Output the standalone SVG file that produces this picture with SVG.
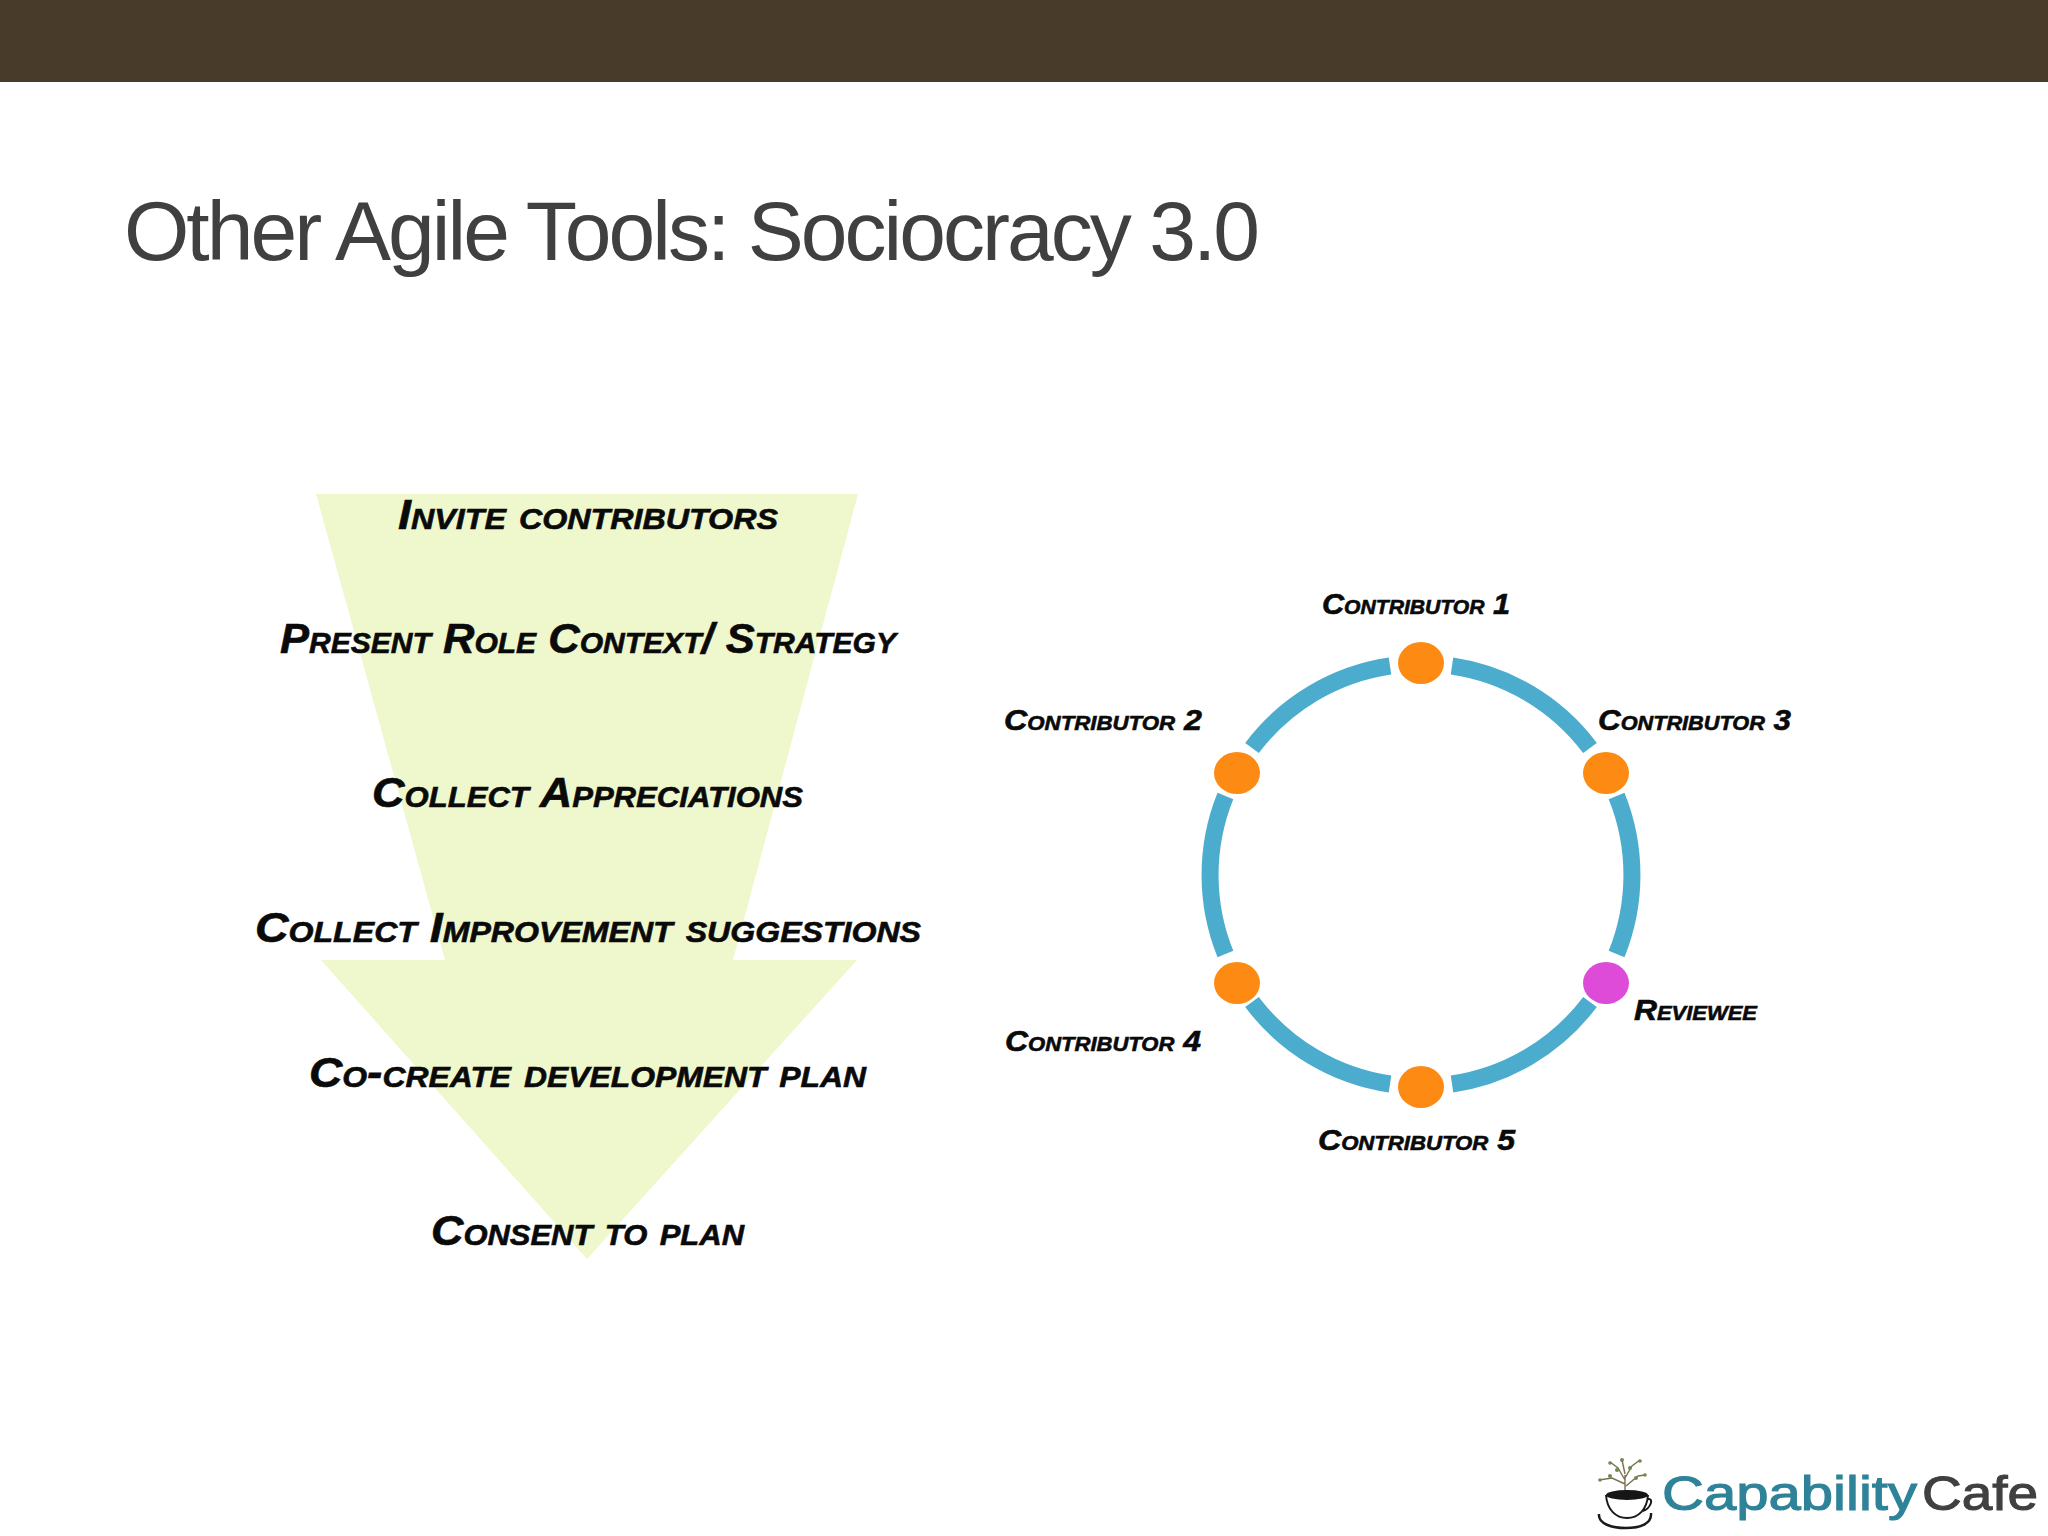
<svg xmlns="http://www.w3.org/2000/svg" width="2048" height="1536" viewBox="0 0 2048 1536">
<style>
.h{font-family:"Liberation Sans",Arial,sans-serif;font-weight:700;font-style:italic;font-variant:small-caps;fill:#0a0a0a;stroke:#0a0a0a;stroke-width:.6}
.s{font-size:42px}.m{font-size:29px}
.d{fill:#fd8a12}.a{fill:none;stroke:#4bacce;stroke-width:17}
.lg{font-family:"Liberation Sans",Arial,sans-serif;font-size:48px;stroke-width:1.1}
.k{fill:none;stroke:#1a1a1a}.t{fill:none;stroke:#7d6f52;stroke-width:1.4}.l{fill:#6f8a4e}
</style>
<rect width="2048" height="1536" fill="#fff"/>
<rect width="2048" height="82" fill="#483b29"/>
<text x="124" y="260" font-family="'Liberation Sans',Arial,sans-serif" font-size="84" fill="#404040" textLength="1136" lengthAdjust="spacing">Other Agile Tools: Sociocracy 3.0</text>
<polygon id="funnel-arrow" points="316,494 858,494 733,960 857,960 587,1259 321,960 445,960" fill="#eff7cc"/>
<g id="steps">
<text class="h s" x="398" y="529" textLength="380" lengthAdjust="spacingAndGlyphs">Invite contributors</text>
<text class="h s" x="280" y="653" textLength="616" lengthAdjust="spacingAndGlyphs">Present Role Context/ Strategy</text>
<text class="h s" x="372" y="807" textLength="431" lengthAdjust="spacingAndGlyphs">Collect Appreciations</text>
<text class="h s" x="255" y="942" textLength="666" lengthAdjust="spacingAndGlyphs">Collect Improvement suggestions</text>
<text class="h s" x="309" y="1087" textLength="557" lengthAdjust="spacingAndGlyphs">Co-create development plan</text>
<text class="h s" x="431" y="1245" textLength="313" lengthAdjust="spacingAndGlyphs">Consent to plan</text>
</g>
<g id="connectors">
<path class="a" d="M1452 666A211 211 0 0 1 1590 748"/>
<path class="a" d="M1616.6 796A211 211 0 0 1 1616.6 954"/>
<path class="a" d="M1590 1002A211 211 0 0 1 1452 1084"/>
<path class="a" d="M1390 1084A211 211 0 0 1 1252 1002"/>
<path class="a" d="M1225.4 954A211 211 0 0 1 1225.4 796"/>
<path class="a" d="M1252 748A211 211 0 0 1 1390 666"/>
</g>
<g id="contributor-1"><ellipse class="d" cx="1421" cy="663" rx="23" ry="21"/><text class="h m" x="1322" y="614" textLength="188" lengthAdjust="spacingAndGlyphs">Contributor 1</text></g>
<g id="contributor-2"><ellipse class="d" cx="1237" cy="773" rx="23" ry="21"/><text class="h m" x="1004" y="730" textLength="198" lengthAdjust="spacingAndGlyphs">Contributor 2</text></g>
<g id="contributor-3"><ellipse class="d" cx="1606" cy="773" rx="23" ry="21"/><text class="h m" x="1598" y="730" textLength="193" lengthAdjust="spacingAndGlyphs">Contributor 3</text></g>
<g id="contributor-4"><ellipse class="d" cx="1237" cy="983" rx="23" ry="21"/><text class="h m" x="1005" y="1051" textLength="196" lengthAdjust="spacingAndGlyphs">Contributor 4</text></g>
<g id="reviewee"><ellipse cx="1606" cy="983" rx="23" ry="21" fill="#dd4bd8"/><text class="h m" x="1634" y="1020" textLength="123" lengthAdjust="spacingAndGlyphs">Reviewee</text></g>
<g id="contributor-5"><ellipse class="d" cx="1421" cy="1087" rx="23" ry="21"/><text class="h m" x="1318" y="1150" textLength="197" lengthAdjust="spacingAndGlyphs">Contributor 5</text></g>
<g id="logo">
<path class="t" d="M1625 1492V1475M1625 1484L1612 1478L1599 1480M1625 1480L1618 1468L1610 1462M1625 1478L1632 1466L1640 1460M1626 1486L1638 1476L1645 1475M1625 1474L1622 1460"/>
<g class="l"><circle cx="1600" cy="1480" r="1.8"/><circle cx="1610" cy="1476" r="2"/><circle cx="1610" cy="1463" r="1.8"/><circle cx="1617" cy="1470" r="2"/><circle cx="1622" cy="1460" r="2"/><circle cx="1630" cy="1468" r="2"/><circle cx="1640" cy="1461" r="1.8"/><circle cx="1636" cy="1478" r="2"/><circle cx="1645" cy="1475" r="1.8"/></g>
<ellipse cx="1627" cy="1495" rx="21" ry="5" fill="#161616"/>
<path class="k" stroke-width="2" d="M1606 1495C1607 1510 1616 1518 1627 1518C1638 1518 1647 1510 1648 1495M1648 1499C1654 1498 1651 1508 1643 1511"/>
<path class="k" stroke-width="2.5" d="M1599 1514C1598 1524 1612 1528 1626 1528C1640 1528 1652 1524 1651 1513"/>
<text class="lg" x="1662" y="1510" fill="#2e8399" stroke="#2e8399" textLength="255" lengthAdjust="spacingAndGlyphs">Capability</text>
<text class="lg" x="1922" y="1510" fill="#404040" stroke="#404040" textLength="116" lengthAdjust="spacingAndGlyphs">Cafe</text>
</g>
</svg>
